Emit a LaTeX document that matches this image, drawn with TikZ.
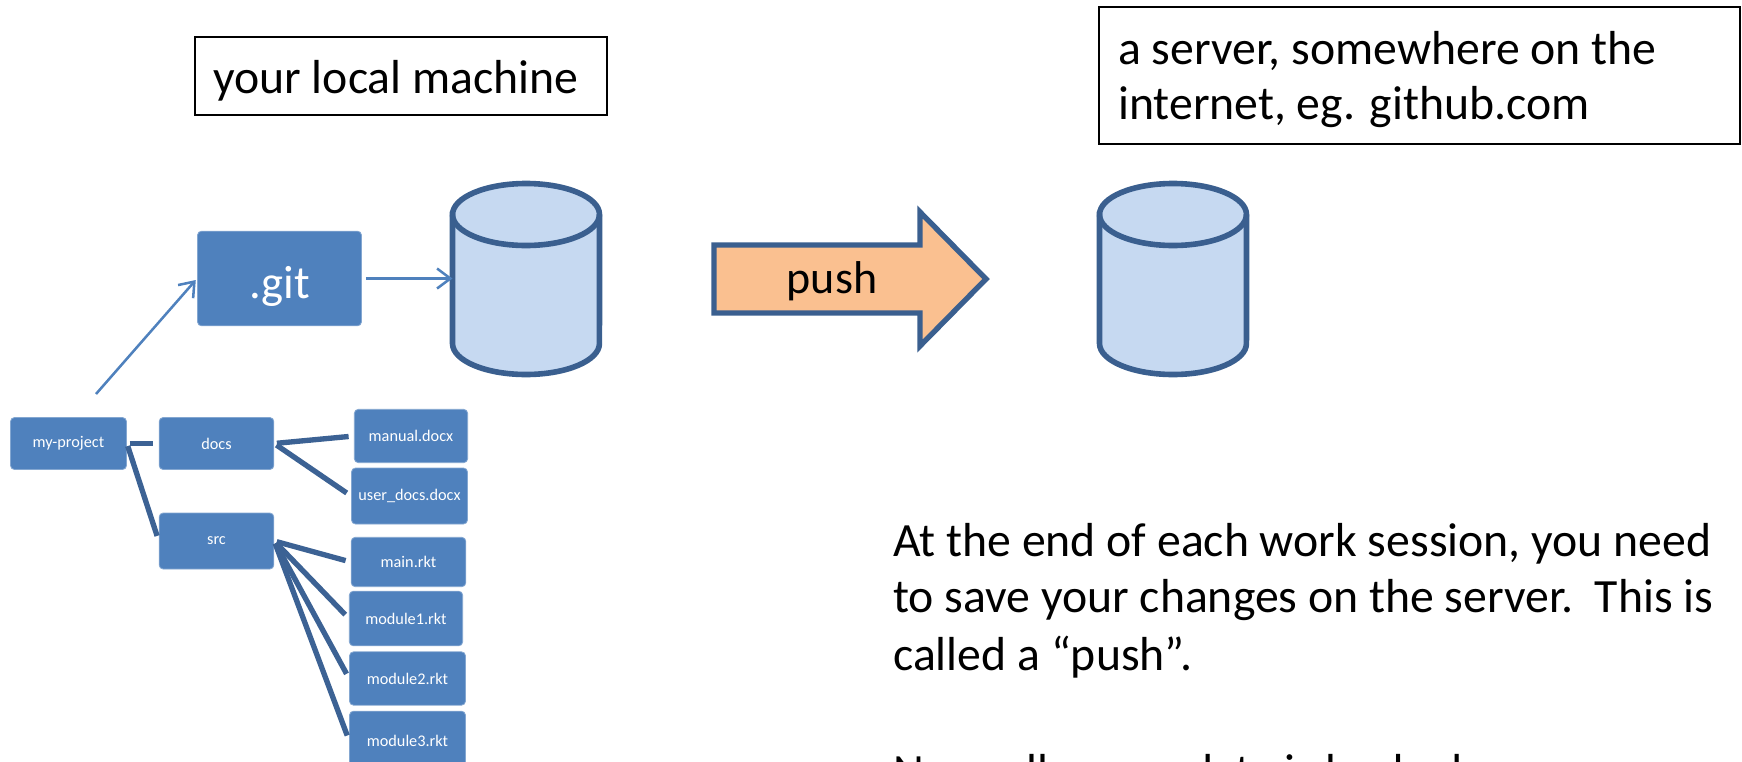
\documentclass[tikz,border=0pt]{standalone}
\usepackage{fontspec}
\setmainfont{Carlito}
\usetikzlibrary{arrows.meta}
\definecolor{boxblue}{HTML}{4F81BD}
\definecolor{edgeblue}{HTML}{3A5F8F}
\definecolor{drumblue}{HTML}{C6D9F1}
\definecolor{pushorange}{HTML}{FAC090}
\newcommand{\fs}[1]{\fontsize{#1}{#1}\selectfont}
\tikzset{
  filebox/.style={draw=boxblue!70!white,fill=boxblue,rounded corners=3pt,text=white,line width=0.6pt,inner sep=0pt,font=\fs{12.2}},
  treeline/.style={edgeblue!90!boxblue,line width=4pt,shorten <=2pt,shorten >=4pt},
  flow/.style={boxblue,line width=1.9pt,-{Straight Barb[length=10pt,width=15pt,line width=1.9pt]}},
  labelbox/.style={draw=black,line width=1.9pt,inner sep=0pt},
  drum/.style={draw=edgeblue,fill=drumblue,line width=4.2pt},
  bodytext/.style={anchor=base west,inner sep=0pt,font=\fs{35.8}}
}
\begin{document}
\begin{tikzpicture}[x=0.75pt,y=-0.75pt]
        \useasboundingbox (0,0) rectangle (1742,761);
        \clip (0,0) rectangle (1742,761);
        %draw label boxes
        \draw[labelbox] (195,37) rectangle (607,115);
        \node[bodytext] (localtext) at (213,93) {your local machine};
        \draw[labelbox] (1099,7) rectangle (1740,144);
        \node[bodytext] (servertext1) at (1118,64) {a server, somewhere on the};
        \node[bodytext] (servertext2) at (1118,119) {internet, eg. github.com};
        %draw git box
        \node[filebox,font=\fs{35},minimum width=123pt,minimum height=71pt] (git) at (279.5,278.5) {\rule{0pt}{36.6pt}.git};
        %draw drums
        \foreach \drumx/\drumname in {526/localdrum,1173/serverdrum}{
            \draw[drum] (\drumx-73.5,214.5) -- (\drumx-73.5,343.5)
                arc[start angle=180,end angle=360,x radius=55.1pt,y radius=23.25pt]
                -- (\drumx+73.5,214.5)
                arc[start angle=0,end angle=180,x radius=55.1pt,y radius=23.25pt] -- cycle;
            \draw[drum,fill=none] (\drumx-73.5,214.5)
                arc[start angle=180,end angle=360,x radius=55.1pt,y radius=23.25pt];
            \coordinate (\drumname) at (\drumx-73.5,279);
        }
        %draw push arrow
        \draw[edgeblue,fill=pushorange,line width=4pt,miter limit=10] (714,245) -- (920,245) -- (920,212) -- (986,279) -- (920,346) -- (920,313) -- (714,313) -- cycle;
        \node[inner sep=0pt,font=\fs{34.5}] (push) at (832,281) {push};
        %draw project tree
        \node[filebox,minimum width=87pt,minimum height=39pt] (project) at (68.5,443.5) {my-project};
        \node[filebox,minimum width=86pt,minimum height=39pt] (docs) at (216.5,443.5) {docs};
        \node[filebox,minimum width=86pt,minimum height=42pt] (src) at (216.5,541) {src};
        \node[filebox,minimum width=85pt,minimum height=40pt] (manual) at (411,436) {manual.docx};
        \node[filebox,minimum width=87pt,minimum height=42pt] (userdocs) at (409.5,496) {user\_docs.docx};
        \node[filebox,minimum width=86pt,minimum height=37pt] (mainrkt) at (408.5,562) {main.rkt};
        \node[filebox,minimum width=85pt,minimum height=41pt] (module1) at (406,618.5) {module1.rkt};
        \node[filebox,minimum width=87pt,minimum height=40pt] (module2) at (407.5,678.5) {module2.rkt};
        \node[filebox,minimum width=87pt,minimum height=44pt] (module3) at (407.5,740.5) {module3.rkt};
        \foreach \child in {docs,src}{
            \draw[treeline] (project.east) -- (\child.west);
        }
        \foreach \child in {manual,userdocs}{
            \draw[treeline] (docs.east) -- (\child.west);
        }
        \foreach \child in {mainrkt,module1,module2,module3}{
            \draw[treeline] (src.east) -- (\child.west);
        }
        %draw arrows
        \coordinate (treestart) at (96,394);
        \draw[flow,shorten >=1.5pt] (treestart) -- (git.west);
        \draw[flow,shorten <=3pt] (git.east) -- (git.east -| localdrum);
        %write explanation
        \node[bodytext] (line1) at (893,556) {At the end of each work session, you need};
        \node[bodytext] (line2) at (893,612) {to save your changes on the server.\ \ This is};
        \node[bodytext] (line3) at (893,670) {called a “push”.};
        \node[bodytext] (line4) at (893,787) {Normally, your data is backed};
\end{tikzpicture}
\end{document}
